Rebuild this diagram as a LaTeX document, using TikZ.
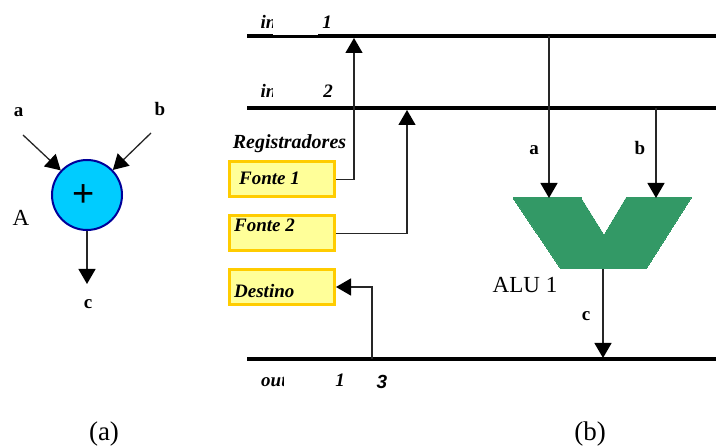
\documentclass[tikz,border=0pt]{standalone}
\usepackage{fontspec}
\setmainfont{Liberation Serif}
\newfontfamily\helv{Liberation Sans}
\usetikzlibrary{arrows.meta}
\definecolor{boxfill}{HTML}{FFFF99}
\definecolor{boxedge}{HTML}{FFCC00}
\definecolor{adderfill}{HTML}{00CCFF}
\definecolor{adderedge}{HTML}{000099}
\definecolor{alugreen}{HTML}{339966}
\definecolor{wire}{HTML}{262626}
\tikzset{
  x=1pt,y=-1pt,
  bus/.style={line width=3.4pt,black},
  conn/.style={line width=1.3pt,wire,-{Triangle[length=15pt,width=17pt,color=black]}},
  regbox/.style={draw=boxedge,fill=boxfill,line width=3pt,minimum width=105pt,minimum height=35pt,inner sep=0pt},
  lab/.style={font=\fontsize{19}{19}\selectfont\bfseries,inner sep=0pt,anchor=base},
  ilab/.style={font=\fontsize{19}{19}\selectfont\bfseries\itshape,inner sep=0pt,anchor=base},
  rlab/.style={font=\fontsize{23}{23}\selectfont,inner sep=0pt,anchor=base},
  caplab/.style={font=\fontsize{27}{27}\selectfont,inner sep=0pt,anchor=base}
}
\begin{document}
\begin{tikzpicture}
\useasboundingbox (0,0) rectangle (716,446);
% left: adder
\node[circle,draw=adderedge,fill=adderfill,line width=2pt,minimum size=70pt,inner sep=0pt] (adder) at (87,195) {};
\node[font=\fontsize{38}{38}\selectfont\helv,inner sep=0pt] (plus) at (84,196) {+};
\coordinate (astart) at (23,135);
\coordinate (bstart) at (151,133);
\coordinate (cend) at (87,284);
\draw[conn] (astart) -- (adder);
\draw[conn] (bstart) -- (adder);
\draw[conn] (adder) -- (cend);
\node[lab] (la) at (18.5,117) {a};
\node[lab] (lb) at (160,116) {b};
\node[lab] (lc) at (88,309) {c};
\node[rlab] (lA) at (21,226) {A};
% buses
\coordinate (in1l) at (247,36); \coordinate (in1r) at (716,36);
\coordinate (in2l) at (247,108); \coordinate (in2r) at (716,108);
\coordinate (outl) at (247,359); \coordinate (outr) at (716,359);
\draw[bus] (in1l) -- (in1r);
\draw[bus] (in2l) -- (in2r);
\draw[bus] (outl) -- (outr);
\fill[white] (273,33) rectangle (318,35);
% bus labels
\begin{scope}
\clip (258,10) rectangle (272.5,33);
\node[ilab,anchor=base west] (in1a) at (260.5,29) {in};
\end{scope}
\begin{scope}
\clip (258,80) rectangle (272.5,104);
\node[ilab,anchor=base west] (in2a) at (260.5,98) {in};
\end{scope}
\node[ilab] (n1) at (327,29) {1};
\node[ilab] (n2) at (328,98) {2};
\begin{scope}
\clip (258,370) rectangle (283,395);
\node[ilab,anchor=base west] (outa) at (261,387) {out};
\end{scope}
\node[ilab] (n3) at (340,387) {1};
\node[font=\fontsize{19}{19}\selectfont\bfseries\itshape\helv,inner sep=0pt,anchor=base] (n4) at (382,389) {3};
% registers
\node[ilab,font=\fontsize{20}{20}\selectfont\bfseries\itshape] (regs) at (289.5,149) {Registradores};
\node[regbox] (f1) at (282,179.5) {};
\node[regbox] (f2) at (282,233.5) {};
\node[regbox] (dest) at (282,287) {};
\node[ilab,anchor=base west] (tf1) at (239,185) {Fonte 1};
\node[ilab,anchor=base west] (tf2) at (234,231.5) {Fonte 2};
\node[ilab,anchor=base west] (td) at (234,298) {Destino};
% register connectors
\coordinate (t1) at (354,38);
\coordinate (t2) at (407,110);
\coordinate (t3) at (372,359);
\draw[conn] (f1.east) -- (t1 |- f1.east) -- (t1);
\draw[conn] (f2.east) -- (t2 |- f2.east) -- (t2);
\draw[conn] (t3) -- (t3 |- dest.east) -- (dest.east);
% ALU
\draw[alugreen,fill=alugreen,line width=0pt] (513,198) -- (581,198) -- (604,235) -- (626,198) -- (691,198) -- (646,269) -- (561,269) -- cycle;
\coordinate (alua) at (549,198);
\coordinate (alub) at (656,198);
\coordinate (aluc) at (603,269);
\coordinate (busa) at (549,36);
\coordinate (busb) at (656,108);
\coordinate (busc) at (603,358);
\draw[conn] (busa) -- (alua);
\draw[conn] (busb) -- (alub);
\draw[conn] (aluc) -- (busc);
\node[lab] (aa) at (534,155) {a};
\node[lab] (ab) at (640,155) {b};
\node[lab] (ac) at (586,321) {c};
\node[rlab] (alu) at (525,293) {ALU 1};
% captions
\node[caplab] (capa) at (104,441) {(a)};
\node[caplab] (capb) at (590,441) {(b)};
\end{tikzpicture}
\end{document}
